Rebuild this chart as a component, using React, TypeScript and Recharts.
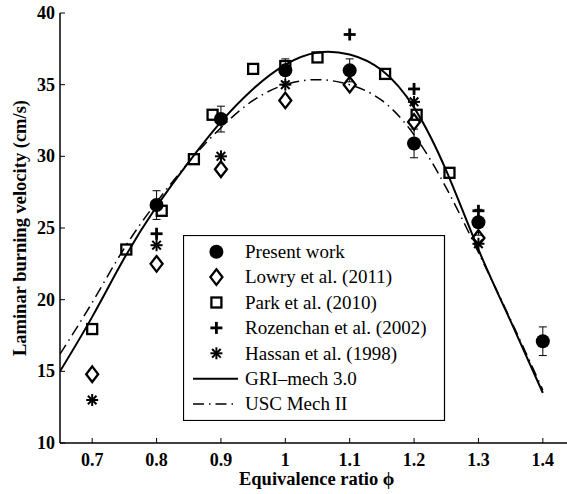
import React from 'react';
import { ComposedChart, Line, Scatter, XAxis, YAxis, ErrorBar, Legend } from 'recharts';

const FONT = "'Liberation Serif', 'Times New Roman', serif";

const phiTicks = [0.7, 0.8, 0.9, 1, 1.1, 1.2, 1.3, 1.4];
const velTicks = [10, 15, 20, 25, 30, 35, 40];

// measurements
const presentPhi = [0.8, 0.9, 1.0, 1.1, 1.2, 1.3, 1.4];
const presentVel = [26.6, 32.6, 36.0, 36.0, 30.9, 25.4, 17.1];
const presentErr = [1.0, 0.9, 0.8, 0.8, 1.0, 0.9, 1.0];

const lowryPhi = [0.7, 0.8, 0.9, 1.0, 1.1, 1.2, 1.3];
const lowryVel = [14.8, 22.5, 29.1, 33.9, 35.0, 32.4, 24.3];

const parkPhi = [0.7, 0.753, 0.808, 0.858, 0.887, 0.95, 1.0, 1.05, 1.155, 1.204, 1.255];
const parkVel = [17.95, 23.5, 26.2, 29.8, 32.9, 36.1, 36.3, 36.9, 35.75, 32.9, 28.85];

const rozenPhi = [0.8, 1.1, 1.2, 1.3];
const rozenVel = [24.6, 38.5, 34.7, 26.2];

const hassanPhi = [0.7, 0.8, 0.9, 1.0, 1.2, 1.3];
const hassanVel = [13.0, 23.8, 30.0, 35.0, 33.8, 23.9];

// model curves
const modelPhi = [0.65, 0.7, 0.75, 0.8, 0.85, 0.9, 0.95, 1.0, 1.05, 1.1, 1.15, 1.2, 1.25, 1.3, 1.35, 1.4];
const griVel = [15.0, 18.8, 22.9, 26.5, 29.6, 32.4, 34.7, 36.4, 37.25, 37.1, 36.0, 33.4, 29.0, 23.5, 18.5, 13.5];
const uscVel = [16.2, 19.8, 23.6, 26.8, 29.6, 32.0, 33.9, 35.0, 35.35, 35.0, 33.9, 31.5, 27.8, 23.3, 18.6, 13.7];

const legendNames = [
  'Present work',
  'Lowry et al. (2011)',
  'Park et al. (2010)',
  'Rozenchan et al. (2002)',
  'Hassan et al. (1998)',
  'GRI–mech 3.0',
  'USC Mech II',
];

const toRows = (xs: number[], ys: number[], err?: number[]) =>
  xs.map((phi, i) => (err ? { phi, v: ys[i], err: err[i] } : { phi, v: ys[i] }));

const presentData = toRows(presentPhi, presentVel, presentErr);
const lowryData = toRows(lowryPhi, lowryVel);
const parkData = toRows(parkPhi, parkVel);
const rozenData = toRows(rozenPhi, rozenVel);
const hassanData = toRows(hassanPhi, hassanVel);
const griData = toRows(modelPhi, griVel);
const uscData = toRows(modelPhi, uscVel);

const USC_DASH = '11 5 1.5 5';

const DotMark = ({ cx, cy }: any) => <circle cx={cx} cy={cy} r={7} fill="#000" />;
const DiamondMark = ({ cx, cy }: any) => (
  <path
    d={`M${cx},${cy - 7.8} L${cx + 6},${cy} L${cx},${cy + 7.8} L${cx - 6},${cy} Z`}
    fill="none"
    stroke="#000"
    strokeWidth={2.3}
  />
);
const SquareMark = ({ cx, cy }: any) => (
  <rect x={cx - 5} y={cy - 5} width={10} height={10} fill="none" stroke="#000" strokeWidth={2.3} />
);
const PlusMark = ({ cx, cy }: any) => (
  <g stroke="#000" strokeWidth={2.8}>
    <line x1={cx - 6} y1={cy} x2={cx + 6} y2={cy} />
    <line x1={cx} y1={cy - 6} x2={cx} y2={cy + 6} />
  </g>
);
const StarMark = ({ cx, cy }: any) => (
  <g stroke="#000" strokeWidth={2}>
    <line x1={cx - 6} y1={cy} x2={cx + 6} y2={cy} />
    <line x1={cx} y1={cy - 6} x2={cx} y2={cy + 6} />
    <line x1={cx - 4.3} y1={cy - 4.3} x2={cx + 4.3} y2={cy + 4.3} />
    <line x1={cx - 4.3} y1={cy + 4.3} x2={cx + 4.3} y2={cy - 4.3} />
  </g>
);

const markers = [DotMark, DiamondMark, SquareMark, PlusMark, StarMark];

const BottomTick = ({ x, y, payload }: any) => (
  <g>
    <line x1={x} y1={y - 22} x2={x} y2={y - 27} stroke="#000" strokeWidth={1} />
    <text x={x} y={y + 1} textAnchor="middle" fontFamily={FONT} fontWeight="bold" fontSize={18} fill="#000">
      {payload.value}
    </text>
  </g>
);

const TopTick = ({ x, y }: any) => (
  <line x1={x} y1={y} x2={x} y2={y + 5} stroke="#444" strokeWidth={1} />
);

const LeftTick = ({ x, y, payload }: any) => (
  <g>
    <line x1={x + 5} y1={y} x2={x + 10} y2={y} stroke="#000" strokeWidth={1} />
    <text x={x} y={y + 6} textAnchor="end" fontFamily={FONT} fontWeight="bold" fontSize={18} fill="#000">
      {payload.value}
    </text>
  </g>
);

const LegendBox = () => (
  <svg width={263} height={186} style={{ display: 'block', background: '#fff' }}>
    <rect x={0.5} y={0.5} width={261} height={185} fill="#fff" stroke="#000" strokeWidth={1.2} />
    {legendNames.map((name, i) => {
      const cy = 16.7 + i * 25.4;
      let icon: React.ReactNode = null;
      if (i < markers.length) {
        const M = markers[i];
        icon = <M cx={33.4} cy={cy} />;
      } else if (i === 5) {
        icon = <line x1={10} y1={cy} x2={55} y2={cy} stroke="#000" strokeWidth={2} />;
      } else {
        icon = <line x1={10} y1={cy} x2={55} y2={cy} stroke="#000" strokeWidth={1.5} strokeDasharray={USC_DASH} />;
      }
      return (
        <g key={name}>
          {icon}
          <text x={62} y={cy + 6.3} fontFamily={FONT} fontSize={19} fill="#000">
            {name}
          </text>
        </g>
      );
    })}
  </svg>
);

export default function App() {
  return (
    <div style={{ position: 'absolute', left: 0, top: 0, width: 567, height: 494, overflow: 'hidden', background: '#fff' }}>
      <ComposedChart width={600} height={494} margin={{ top: 13, right: 25, bottom: 0, left: 0 }}>
        <XAxis
          dataKey="phi"
          type="number"
          domain={[0.65, 1.45]}
          ticks={phiTicks}
          allowDataOverflow
          height={51}
          tickSize={0}
          tickMargin={22}
          tickLine={false}
          tick={<BottomTick />}
          axisLine={{ stroke: '#000', strokeWidth: 1.5 }}
          interval={0}
          label={{
            value: 'Equivalence ratio ϕ',
            content: () => (
              <text x={316.7} y={485} textAnchor="middle" fontFamily={FONT} fontWeight="bold" fontSize={18.5} fill="#000">
                Equivalence ratio ϕ
              </text>
            ),
          }}
        />
        <XAxis
          xAxisId="top"
          orientation="top"
          dataKey="phi"
          type="number"
          domain={[0.65, 1.45]}
          ticks={phiTicks}
          allowDataOverflow
          height={0}
          tickSize={0}
          tickMargin={0}
          tickLine={false}
          tick={<TopTick />}
          axisLine={{ stroke: '#444', strokeWidth: 1.2 }}
          interval={0}
        />
        <YAxis
          dataKey="v"
          type="number"
          domain={[10, 40]}
          ticks={velTicks}
          allowDataOverflow
          width={60}
          tickSize={0}
          tickMargin={5}
          tickLine={false}
          tick={<LeftTick />}
          axisLine={{ stroke: '#000', strokeWidth: 1.5 }}
          interval={0}
          label={{
            value: 'Laminar burning velocity (cm/s)',
            content: () => (
              <text
                x={20}
                y={228}
                transform="rotate(-90 20 228)"
                textAnchor="middle"
                dominantBaseline="central"
                fontFamily={FONT}
                fontWeight="bold"
                fontSize={18.5}
                fill="#000"
              >
                Laminar burning velocity (cm/s)
              </text>
            ),
          }}
        />
        <Line
          data={griData}
          dataKey="v"
          type="natural"
          stroke="#000"
          strokeWidth={2}
          dot={false}
          activeDot={false}
          isAnimationActive={false}
        />
        <Line
          data={uscData}
          dataKey="v"
          type="natural"
          stroke="#000"
          strokeWidth={1.5}
          strokeDasharray={USC_DASH}
          dot={false}
          activeDot={false}
          isAnimationActive={false}
        />
        <Scatter data={parkData} dataKey="v" shape={SquareMark} isAnimationActive={false} />
        <Scatter data={lowryData} dataKey="v" shape={DiamondMark} isAnimationActive={false} />
        <Scatter data={rozenData} dataKey="v" shape={PlusMark} isAnimationActive={false} />
        <Scatter data={hassanData} dataKey="v" shape={StarMark} isAnimationActive={false} />
        <Scatter data={presentData} dataKey="v" shape={DotMark} isAnimationActive={false}>
          <ErrorBar dataKey="err" direction="y" width={4} stroke="#000" strokeWidth={1} />
        </Scatter>
        <Legend
          layout="horizontal"
          verticalAlign="middle"
          align="center"
          wrapperStyle={{ left: 183, top: 235, width: 263, height: 186 }}
          content={() => <LegendBox />}
        />
      </ComposedChart>
    </div>
  );
}
